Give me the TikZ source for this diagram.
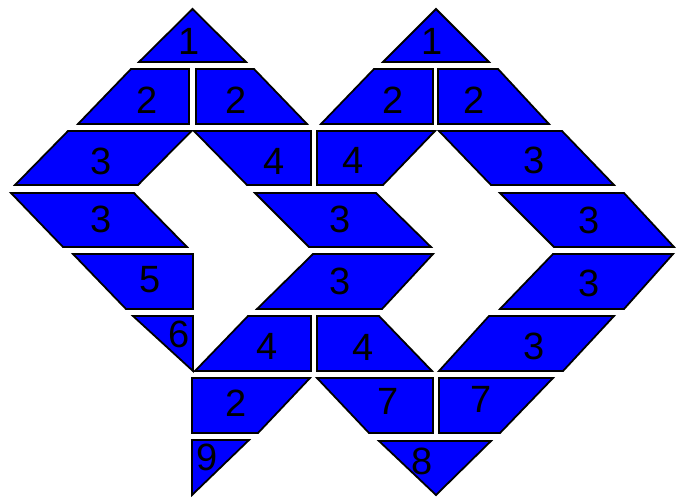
\documentclass[tikz,border=0pt]{standalone}
\usepackage{fontspec}
\setsansfont{Liberation Sans}
\usepackage{tikz}

\begin{document}
\begin{tikzpicture}[
    x=1pt, y=-1pt,
    tile/.style={fill=blue, draw=black, line width=1.8pt, line join=miter},
    num/.style={font=\sffamily\fontsize{38}{38}\selectfont, inner sep=0pt},
]
\useasboundingbox (0,0) rectangle (676,497);

%% TILES
    % left figure
    \draw[tile] (192.5,9) -- (246,62) -- (139,62) -- cycle;
    \draw[tile] (131,69) -- (189,69) -- (189,124) -- (78,124) -- cycle;
    \draw[tile] (196,69) -- (254,69) -- (307,124) -- (196,124) -- cycle;
    \draw[tile] (68,131) -- (191.5,131) -- (138,185) -- (15,185) -- cycle;
    \draw[tile] (194,131) -- (311,131) -- (311,185) -- (247,185) -- cycle;
    \draw[tile] (11,193) -- (134,193) -- (187,247) -- (63,247) -- cycle;
    \draw[tile] (73,254) -- (193,254) -- (193,309) -- (126,309) -- cycle;
    \draw[tile] (133,316) -- (193,316) -- (193,371) -- cycle;
    \draw[tile] (248,316) -- (311,316) -- (311,371) -- (195,371) -- cycle;
    \draw[tile] (192,378) -- (310,378) -- (258,433) -- (192,433) -- cycle;
    \draw[tile] (192,440) -- (249,440) -- (192,495) -- cycle;

    % middle
    \draw[tile] (255,193) -- (376,193) -- (431,247) -- (309,247) -- cycle;
    \draw[tile] (313,254) -- (433,254) -- (382,309) -- (257,309) -- cycle;

    % right figure
    \draw[tile] (436,9) -- (489,62) -- (383,62) -- cycle;
    \draw[tile] (374,69) -- (433,69) -- (433,124) -- (321,124) -- cycle;
    \draw[tile] (438,69) -- (498,69) -- (549,124) -- (438,124) -- cycle;
    \draw[tile] (317,131) -- (435,131) -- (383,185) -- (317,185) -- cycle;
    \draw[tile] (439,131) -- (562,131) -- (614,185) -- (491,185) -- cycle;
    \draw[tile] (500,193) -- (624,193) -- (674,247) -- (554,247) -- cycle;
    \draw[tile] (553,254) -- (673,254) -- (624,309) -- (500,309) -- cycle;
    \draw[tile] (317,316) -- (379,316) -- (432,371) -- (317,371) -- cycle;
    \draw[tile] (489,316) -- (614,316) -- (563,371) -- (439,371) -- cycle;
    \draw[tile] (317,378) -- (433,378) -- (433,433) -- (369,433) -- cycle;
    \draw[tile] (439,378) -- (553,378) -- (500,433) -- (439,433) -- cycle;
    \draw[tile] (379,441) -- (491,441) -- (436,495) -- cycle;

%% NODES
    % left figure
    \node[num] (l_one) at (189,41) {1};
    \node[num] (l_two_a) at (147.5,100) {2};
    \node[num] (l_two_b) at (236,100) {2};
    \node[num] (l_three_a) at (101,161) {3};
    \node[num] (l_four_a) at (274,161) {4};
    \node[num] (l_three_b) at (101,219) {3};
    \node[num] (l_five) at (150,280) {5};
    \node[num] (l_six) at (179,334) {6};
    \node[num] (l_four_b) at (267,346) {4};
    \node[num] (l_two_c) at (236,403) {2};
    \node[num] (l_nine) at (207,457) {9};

    % middle
    \node[num] (m_three_a) at (340,219) {3};
    \node[num] (m_three_b) at (340,281) {3};

    % right figure
    \node[num] (r_one) at (432,41) {1};
    \node[num] (r_two_a) at (393,100) {2};
    \node[num] (r_two_b) at (474,100) {2};
    \node[num] (r_four_a) at (353,160) {4};
    \node[num] (r_three_a) at (534,160) {3};
    \node[num] (r_three_b) at (589,220) {3};
    \node[num] (r_three_c) at (589,283) {3};
    \node[num] (r_four_b) at (363,347) {4};
    \node[num] (r_three_d) at (534,346) {3};
    \node[num] (r_seven_a) at (388,401) {7};
    \node[num] (r_seven_b) at (481,399) {7};
    \node[num] (r_eight) at (422,461) {8};

\end{tikzpicture}
\end{document}
